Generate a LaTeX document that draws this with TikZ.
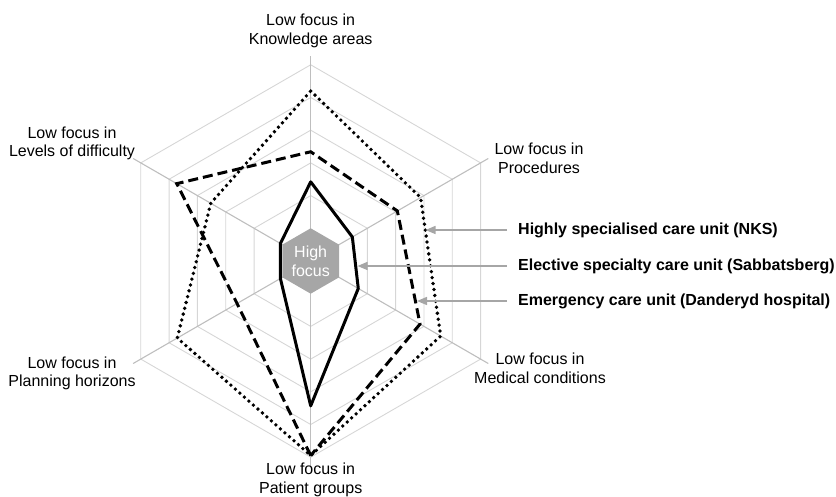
\documentclass[tikz,border=0pt]{standalone}
\usepackage{fontspec}
\setmainfont{Liberation Sans}
\usetikzlibrary{calc,arrows.meta}

\definecolor{ringgray}{RGB}{214,214,214}
\definecolor{axisgray}{RGB}{190,190,190}
\definecolor{hubgray}{RGB}{166,166,166}

\tikzset{
  lbl/.style={align=center,inner sep=0pt,font=\fontsize{16}{18.5}\selectfont},
  legend/.style={anchor=west,inner sep=0pt,font=\fontsize{16}{18.5}\selectfont\bfseries},
  nks/.style={line width=3.8pt,line cap=round,line join=round,dash pattern=on 0pt off 6pt},
  sabb/.style={line width=3pt,line join=round},
  dand/.style={line width=3pt,line join=miter,dash pattern=on 10pt off 5pt},
  pointer/.style={draw=hubgray,line width=1.5pt,-{Triangle[length=10pt,width=8pt]}},
}

\begin{document}
\begin{tikzpicture}[x=1pt,y=1pt]
	\useasboundingbox (0,0) rectangle (836,497);

	%% ring spacing of the radar grid
	\def\rs{32.7}

	\begin{scope}[shift={(310.7,236)}]
	%% grid rings (hexagons)
	\foreach \k in {2,...,6}
	  \draw[ringgray,line width=0.9pt] (90:\k*\rs) -- (30:\k*\rs) -- (-30:\k*\rs)
	    -- (-90:\k*\rs) -- (-150:\k*\rs) -- (150:\k*\rs) -- cycle;

	%% axes
	\foreach \a in {90,30,-30,-90,-150,150}
	  \draw[axisgray,line width=1.1pt] (0,0) -- (\a:6.27*\rs);

	%% centre hexagon
	\fill[hubgray] (90:\rs) -- (30:\rs) -- (-30:\rs) -- (-90:\rs)
	  -- (-150:\rs) -- (150:\rs) -- cycle;
	\node[lbl,text=white] (hub) at (0,-0.5) {High\\focus};

	%% NKS (dotted)
	\coordinate (N1) at (90:5.2*\rs);
	\coordinate (N2) at (30:3.88*\rs);
	\coordinate (N3) at (-30:4.59*\rs);
	\coordinate (N4) at (-90:5.95*\rs);
	\coordinate (N5) at (210:4.71*\rs);
	\coordinate (N6) at (150:3.53*\rs);

	%% Danderyd (dashed)
	\coordinate (D1) at (90:3.34*\rs);
	\coordinate (D2) at (30:3.06*\rs);
	\coordinate (D3) at (-30:3.86*\rs);
	\coordinate (D4) at (-90:5.95*\rs);
	\coordinate (D5) at (210:2.6*\rs);
	\coordinate (D6) at (150:4.73*\rs);

	%% Sabbatsberg (solid)
	\coordinate (S1) at (90:2.42*\rs);
	\coordinate (S2) at (30:1.47*\rs);
	\coordinate (S3) at (-30:1.68*\rs);
	\coordinate (S4) at (-90:4.43*\rs);
	\coordinate (S5) at (210:1.07*\rs);
	\coordinate (S6) at (150:1.07*\rs);

	\draw[nks] (N1) -- (N2) -- (N3) -- (N4) -- (N5) -- (N6) -- cycle;
	\draw[dand] (D4) -- (D5) -- (D6) -- (D1) -- (D2) -- (D3) -- cycle;
	\draw[sabb] (S1) -- (S2) -- (S3) -- (S4) -- (S5) -- (S6) -- cycle;
	\end{scope}

	%% axis labels
	\node[lbl] (know) at (310.7,466) {Low focus in\\Knowledge areas};
	\node[lbl] (proc) at (539,338.5) {Low focus in\\Procedures};
	\node[lbl] (medi) at (540,128.5) {Low focus in\\Medical conditions};
	\node[lbl] (pati) at (310.7,17) {Low focus in\\Patient groups};
	\node[lbl] (plan) at (72,123.5) {Low focus in\\Planning horizons};
	\node[lbl] (leve) at (72,353.5) {Low focus in\\Levels of difficulty};

	%% legend
	\node[legend] (legN) at (518,267) {Highly specialised care unit (NKS)};
	\node[legend] (legS) at (518,231) {Elective specialty care unit (Sabbatsberg)};
	\node[legend] (legD) at (518,196) {Emergency care unit (Danderyd hospital)};

	\coordinate (tipN) at (425.5,0);
	\coordinate (tipS) at (357.5,0);
	\coordinate (tipD) at (417,0);

	\draw[pointer,shorten <=11pt] (legN.west) -- (legN.west -| tipN);
	\draw[pointer,shorten <=11pt] (legS.west) -- (legS.west -| tipS);
	\draw[pointer,shorten <=11pt] (legD.west) -- (legD.west -| tipD);
\end{tikzpicture}
\end{document}
